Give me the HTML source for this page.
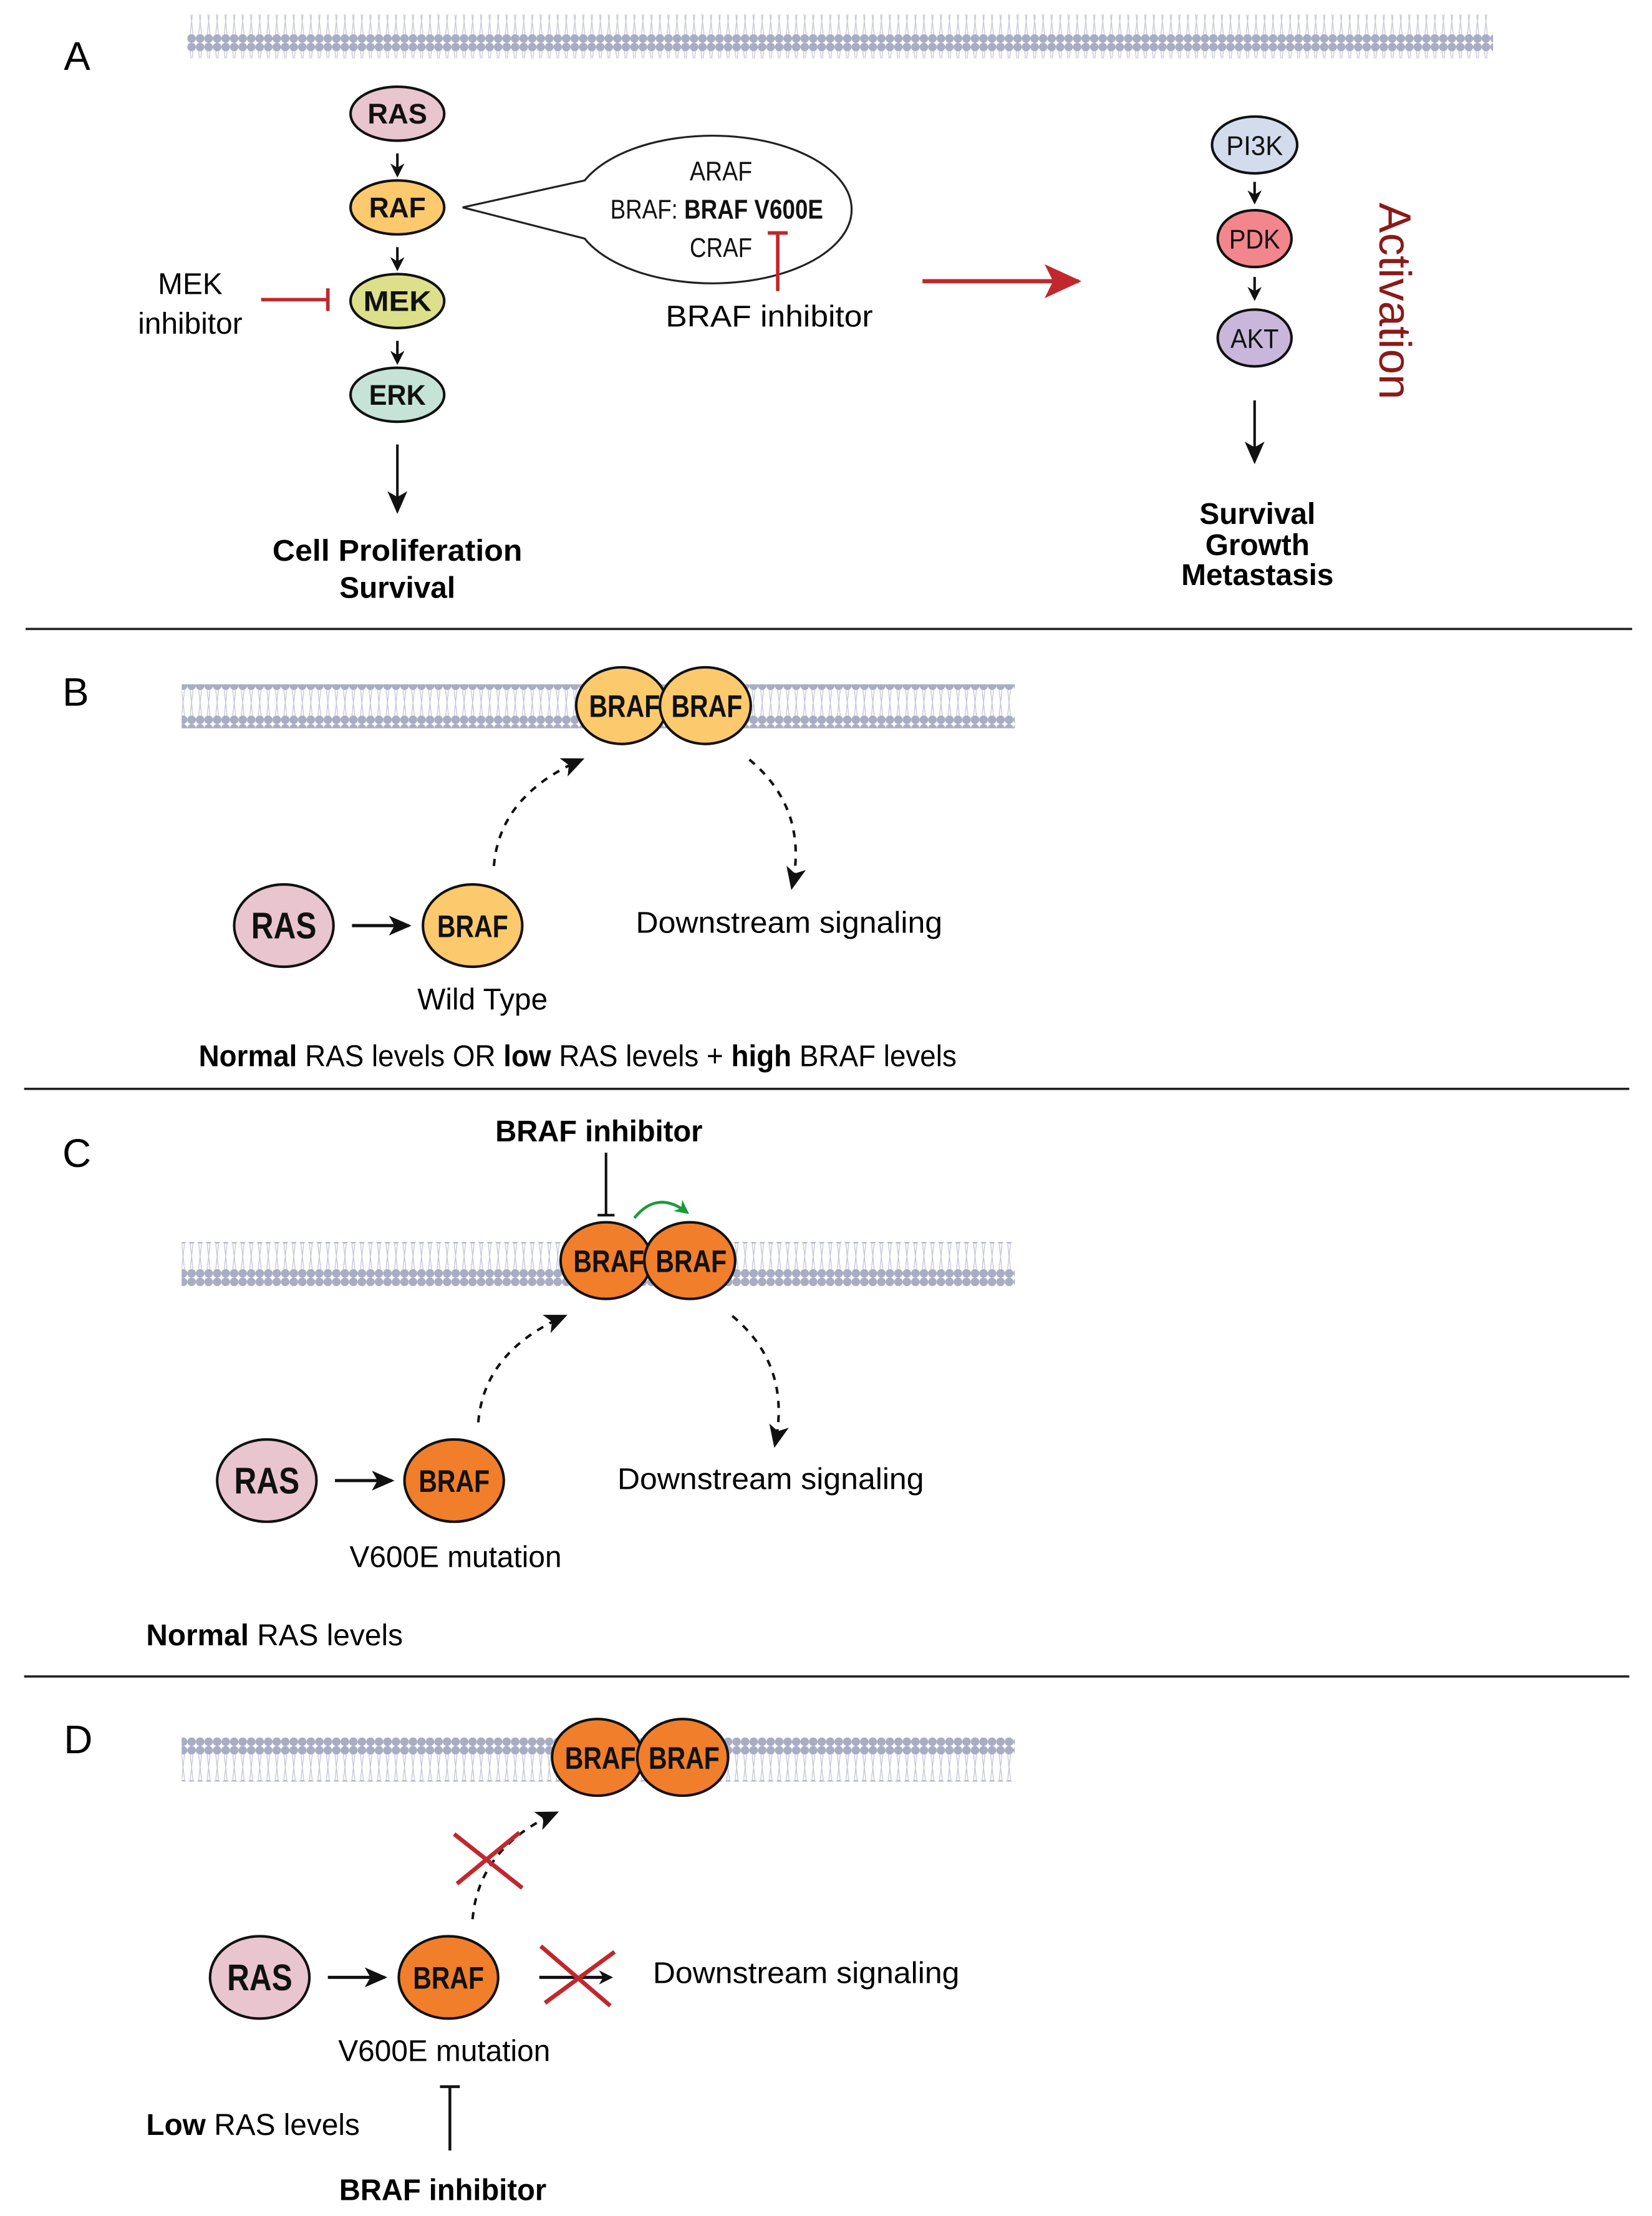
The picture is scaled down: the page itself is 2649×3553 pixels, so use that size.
<!DOCTYPE html>
<html><head><meta charset="utf-8"><style>
html,body{margin:0;padding:0;background:#fff;}
svg{display:block;}
text{font-family:"Liberation Sans",sans-serif;}
</style></head><body>
<svg width="2649" height="3553" viewBox="0 0 1164 1561" xmlns="http://www.w3.org/2000/svg">
<defs>
<pattern id="mem" width="6" height="30" patternUnits="userSpaceOnUse">
<circle cx="3" cy="3" r="3" fill="#a9adc4"/>
<circle cx="3" cy="27" r="3" fill="#a9adc4"/>
<path d="M2 6 L3 15 L2 24 M4 6 L3 15 L4 24" stroke="#c4c7d6" stroke-width="0.6" fill="none"/>
</pattern>
<marker id="ah" markerWidth="10" markerHeight="10" refX="8" refY="5" orient="auto" markerUnits="userSpaceOnUse"><path d="M0 0 L10 5 L0 10 L3 5Z" fill="#111"/></marker>
<marker id="ahb" markerWidth="16" markerHeight="14" refX="14" refY="7" orient="auto" markerUnits="userSpaceOnUse"><path d="M0 0 L16 7 L0 14 L4 7Z" fill="#111"/></marker>
<marker id="ahr" markerWidth="26" markerHeight="24" refX="24" refY="12" orient="auto" markerUnits="userSpaceOnUse"><path d="M0 0 L26 12 L0 24 L6 12Z" fill="#c0282d"/></marker>
<marker id="ahg" markerWidth="10" markerHeight="10" refX="8" refY="5" orient="auto" markerUnits="userSpaceOnUse"><path d="M0 0 L10 5 L0 10 L3 5Z" fill="#1a9a3a"/></marker>
</defs>

<!-- Panel A -->
<rect x="132" y="10" width="920" height="31" fill="url(#mem)"/>
<text x="45" y="49" font-size="28">A</text>
<g stroke="#111" stroke-width="1.8">
<ellipse cx="280" cy="80" rx="33" ry="19" fill="#e8c5cf"/>
<ellipse cx="280" cy="146" rx="33" ry="19" fill="#fcc96d"/>
<ellipse cx="280" cy="212" rx="33" ry="19" fill="#dde08a"/>
<ellipse cx="280" cy="278" rx="33" ry="19" fill="#c5e3d6"/>
<line x1="280" y1="108" x2="280" y2="123" marker-end="url(#ah)"/>
<line x1="280" y1="174" x2="280" y2="189" marker-end="url(#ah)"/>
<line x1="280" y1="240" x2="280" y2="255" marker-end="url(#ah)"/>
<line x1="280" y1="313" x2="280" y2="360" marker-end="url(#ahb)"/>
</g>
<g font-weight="bold" font-size="20" text-anchor="middle" fill="#111">
<text x="280" y="87" textLength="42" lengthAdjust="spacingAndGlyphs">RAS</text><text x="280" y="153" textLength="40" lengthAdjust="spacingAndGlyphs">RAF</text><text x="280" y="219" textLength="48" lengthAdjust="spacingAndGlyphs">MEK</text><text x="280" y="285" textLength="40" lengthAdjust="spacingAndGlyphs">ERK</text>
</g>
<text x="280" y="395" font-size="21" font-weight="bold" text-anchor="middle" textLength="176" lengthAdjust="spacingAndGlyphs">Cell Proliferation</text>
<text x="280" y="421" font-size="21" font-weight="bold" text-anchor="middle">Survival</text>
<text x="134" y="207" font-size="21" text-anchor="middle">MEK</text>
<text x="134" y="235" font-size="21" text-anchor="middle">inhibitor</text>
<g stroke="#c0282d" stroke-width="2.5"><line x1="184" y1="211" x2="231" y2="211"/><line x1="231" y1="203" x2="231" y2="219"/></g>
<path d="M412 127 A98 52 0 1 1 412 168 L326 146 Z" fill="#fff" stroke="#222" stroke-width="1.4"/>
<g font-size="19" text-anchor="middle" fill="#111">
<text x="508" y="127" textLength="44" lengthAdjust="spacingAndGlyphs">ARAF</text>
<text x="505" y="154" textLength="150" lengthAdjust="spacingAndGlyphs">BRAF: <tspan font-weight="bold">BRAF V600E</tspan></text>
<text x="508" y="181" textLength="44" lengthAdjust="spacingAndGlyphs">CRAF</text>
</g>
<g stroke="#c0282d" stroke-width="2.5"><line x1="548" y1="163" x2="548" y2="205"/><line x1="541" y1="164" x2="555" y2="164"/></g>
<text x="542" y="230" font-size="21" text-anchor="middle" textLength="146" lengthAdjust="spacingAndGlyphs">BRAF inhibitor</text>
<line x1="650" y1="198" x2="760" y2="198" stroke="#c0282d" stroke-width="3" marker-end="url(#ahr)"/>
<g stroke="#111" stroke-width="1.8">
<ellipse cx="884" cy="102" rx="30" ry="20" fill="#d3dced"/>
<ellipse cx="884" cy="168" rx="26" ry="20" fill="#f2868c"/>
<ellipse cx="884" cy="238" rx="26" ry="20" fill="#c9b7db"/>
<line x1="884" y1="128" x2="884" y2="142" marker-end="url(#ah)"/>
<line x1="884" y1="195" x2="884" y2="210" marker-end="url(#ah)"/>
<line x1="884" y1="282" x2="884" y2="325" marker-end="url(#ahb)"/>
</g>
<g font-size="19" text-anchor="middle" fill="#111">
<text x="884" y="109" textLength="40" lengthAdjust="spacingAndGlyphs">PI3K</text><text x="884" y="175" textLength="36" lengthAdjust="spacingAndGlyphs">PDK</text><text x="884" y="245" textLength="34" lengthAdjust="spacingAndGlyphs">AKT</text>
</g>
<g font-size="21" font-weight="bold" text-anchor="middle">
<text x="886" y="369">Survival</text><text x="886" y="391">Growth</text><text x="886" y="412">Metastasis</text>
</g>
<text transform="translate(972,212) rotate(90)" font-size="32" text-anchor="middle" fill="#8b1a1a">Activation</text>
<g stroke="#222" stroke-width="1.6">
<line x1="18" y1="443" x2="1150" y2="443"/>
<line x1="17" y1="767" x2="1148" y2="767"/>
<line x1="17" y1="1181" x2="1148" y2="1181"/>
</g>

<!-- Panel B -->
<rect x="128" y="482" width="587" height="31" fill="url(#mem)"/>
<text x="44" y="497" font-size="28">B</text>
<g stroke="#111" stroke-width="1.8" fill="#fcc96d">
<ellipse cx="438" cy="497" rx="32" ry="27"/><ellipse cx="497" cy="497" rx="32" ry="27"/>
<ellipse cx="200" cy="652" rx="35" ry="29" fill="#e8c5cf"/><ellipse cx="333" cy="652" rx="35" ry="29"/>
</g>
<g font-weight="bold" font-size="22" text-anchor="middle" fill="#111">
<text x="440" y="505" textLength="50" lengthAdjust="spacingAndGlyphs">BRAF</text><text x="498" y="505" textLength="50" lengthAdjust="spacingAndGlyphs">BRAF</text>
<text x="200" y="661" font-size="26" textLength="46" lengthAdjust="spacingAndGlyphs">RAS</text><text x="333" y="660" textLength="50" lengthAdjust="spacingAndGlyphs">BRAF</text>
</g>
<line x1="248" y1="652" x2="288" y2="652" stroke="#111" stroke-width="2.2" marker-end="url(#ahb)"/>
<path d="M348 610 Q352 560 410 535" stroke="#111" stroke-width="1.8" fill="none" stroke-dasharray="5 5" marker-end="url(#ahb)"/>
<path d="M528 535 Q570 570 558 625" stroke="#111" stroke-width="1.8" fill="none" stroke-dasharray="5 5" marker-end="url(#ahb)"/>
<text x="556" y="657" font-size="21" text-anchor="middle" textLength="216" lengthAdjust="spacingAndGlyphs">Downstream signaling</text>
<text x="340" y="711" font-size="21" text-anchor="middle">Wild Type</text>
<text x="140" y="751" font-size="21" textLength="534" lengthAdjust="spacingAndGlyphs"><tspan font-weight="bold">Normal</tspan> RAS levels OR <tspan font-weight="bold">low</tspan> RAS levels + <tspan font-weight="bold">high</tspan> BRAF levels</text>

<!-- Panel C -->
<rect x="128" y="875" width="587" height="31" fill="url(#mem)"/>
<text x="44" y="822" font-size="28">C</text>
<text x="422" y="804" font-size="21" font-weight="bold" text-anchor="middle" textLength="146" lengthAdjust="spacingAndGlyphs">BRAF inhibitor</text>
<g stroke="#111" stroke-width="1.8"><line x1="427" y1="812" x2="427" y2="856"/><line x1="421" y1="856" x2="433" y2="856"/></g>
<path d="M447 858 Q463 838 484 854" stroke="#1a9a3a" stroke-width="2" fill="none" marker-end="url(#ahg)"/>
<g stroke="#111" stroke-width="1.8" fill="#f07e2a">
<ellipse cx="427" cy="888" rx="32" ry="27"/><ellipse cx="486" cy="888" rx="32" ry="27"/>
<ellipse cx="188" cy="1043" rx="35" ry="29" fill="#e8c5cf"/><ellipse cx="320" cy="1043" rx="35" ry="29"/>
</g>
<g font-weight="bold" font-size="22" text-anchor="middle" fill="#111">
<text x="429" y="896" textLength="50" lengthAdjust="spacingAndGlyphs">BRAF</text><text x="487" y="896" textLength="50" lengthAdjust="spacingAndGlyphs">BRAF</text>
<text x="188" y="1052" font-size="26" textLength="46" lengthAdjust="spacingAndGlyphs">RAS</text><text x="320" y="1051" textLength="50" lengthAdjust="spacingAndGlyphs">BRAF</text>
</g>
<line x1="236" y1="1043" x2="276" y2="1043" stroke="#111" stroke-width="2.2" marker-end="url(#ahb)"/>
<path d="M337 1002 Q341 952 398 927" stroke="#111" stroke-width="1.8" fill="none" stroke-dasharray="5 5" marker-end="url(#ahb)"/>
<path d="M516 927 Q558 962 546 1018" stroke="#111" stroke-width="1.8" fill="none" stroke-dasharray="5 5" marker-end="url(#ahb)"/>
<text x="543" y="1049" font-size="21" text-anchor="middle" textLength="216" lengthAdjust="spacingAndGlyphs">Downstream signaling</text>
<text x="321" y="1104" font-size="21" text-anchor="middle">V600E mutation</text>
<text x="103" y="1159" font-size="21"><tspan font-weight="bold">Normal</tspan> RAS levels</text>

<!-- Panel D -->
<rect x="128" y="1224" width="587" height="31" fill="url(#mem)"/>
<text x="45" y="1235" font-size="28">D</text>
<g stroke="#111" stroke-width="1.8" fill="#f07e2a">
<ellipse cx="421" cy="1238" rx="32" ry="27"/><ellipse cx="481" cy="1238" rx="32" ry="27"/>
<ellipse cx="183" cy="1393" rx="35" ry="29" fill="#e8c5cf"/><ellipse cx="316" cy="1393" rx="35" ry="29"/>
</g>
<g font-weight="bold" font-size="22" text-anchor="middle" fill="#111">
<text x="423" y="1246" textLength="50" lengthAdjust="spacingAndGlyphs">BRAF</text><text x="482" y="1246" textLength="50" lengthAdjust="spacingAndGlyphs">BRAF</text>
<text x="183" y="1402" font-size="26" textLength="46" lengthAdjust="spacingAndGlyphs">RAS</text><text x="316" y="1401" textLength="50" lengthAdjust="spacingAndGlyphs">BRAF</text>
</g>
<line x1="231" y1="1393" x2="271" y2="1393" stroke="#111" stroke-width="2.2" marker-end="url(#ahb)"/>
<path d="M333 1352 Q337 1302 392 1277" stroke="#111" stroke-width="1.8" fill="none" stroke-dasharray="5 5" marker-end="url(#ahb)"/>
<line x1="380" y1="1393" x2="430" y2="1393" stroke="#111" stroke-width="2.2" marker-end="url(#ah)"/>
<g stroke="#c0282d" stroke-width="3">
<line x1="320" y1="1292" x2="368" y2="1330"/><line x1="366" y1="1291" x2="322" y2="1327"/>
<line x1="381" y1="1371" x2="430" y2="1413"/><line x1="433" y1="1375" x2="384" y2="1411"/>
</g>
<text x="568" y="1397" font-size="21" text-anchor="middle" textLength="216" lengthAdjust="spacingAndGlyphs">Downstream signaling</text>
<text x="313" y="1452" font-size="21" text-anchor="middle">V600E mutation</text>
<text x="103" y="1504" font-size="21"><tspan font-weight="bold">Low</tspan> RAS levels</text>
<g stroke="#111" stroke-width="2"><line x1="317" y1="1470" x2="317" y2="1515"/><line x1="310" y1="1470" x2="324" y2="1470"/></g>
<text x="312" y="1550" font-size="21" font-weight="bold" text-anchor="middle" textLength="146" lengthAdjust="spacingAndGlyphs">BRAF inhibitor</text>
</svg>
</body></html>
